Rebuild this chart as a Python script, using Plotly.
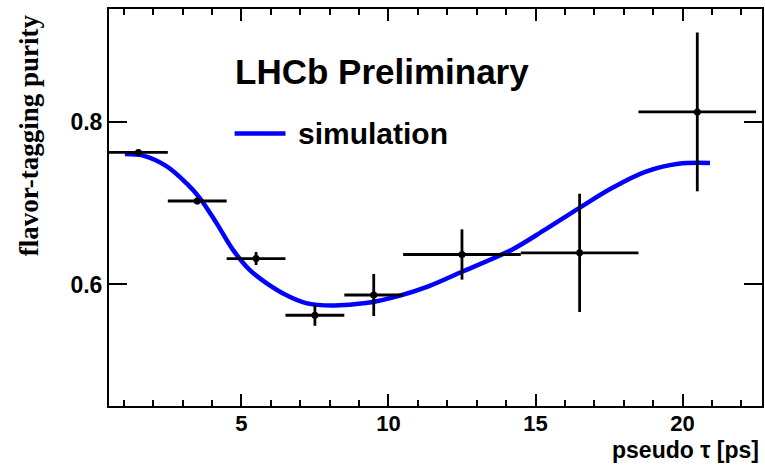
import plotly.graph_objects as go

# ---- data ----
data_x = [1.5, 3.5, 5.5, 7.5, 9.5, 12.5, 16.5, 20.5]
data_xerr = [1.0, 1.0, 1.0, 1.0, 1.0, 2.0, 2.0, 2.0]
data_y = [0.763, 0.703, 0.632, 0.562, 0.587, 0.637, 0.639, 0.813]
data_yerr = [0.002, 0.004, 0.008, 0.013, 0.026, 0.031, 0.073, 0.098]

sim_x = [1.04, 1.66, 2.45, 3.13, 3.58, 4.15, 4.71, 5.28, 5.84, 6.52, 7.2, 8.1,
         9.23, 10.36, 11.38, 12.52, 14.2, 15.34, 16.47, 17.6, 18.73, 19.86, 20.93]
sim_y = [0.761, 0.759, 0.746, 0.725, 0.707, 0.676, 0.643, 0.618, 0.602, 0.587,
         0.577, 0.574, 0.577, 0.586, 0.598, 0.616, 0.643, 0.668, 0.694, 0.719,
         0.739, 0.749, 0.750]

x_range = [0.5, 22.7]
y_range = [0.45, 0.94]
y_ticks = [0.6, 0.8]
y_ticklabels = ["0.6", "0.8"]

W, H = 765, 465
L, R, T, B = 109, 1, 9, 59
pw, ph = W - L - R, H - T - B

def px2paper_x(px):
    return (px - L) / pw

def px2paper_y(py):
    return (H - B - py) / ph

sans = "Liberation Sans, Arial, sans-serif"
serif = "Liberation Serif, Times New Roman, serif"

fig = go.Figure()

fig.add_trace(go.Scatter(
    x=sim_x, y=sim_y, mode="lines", name="simulation",
    line=dict(color="#0000ff", width=4.5, shape="spline", smoothing=1.0),
    showlegend=False, hoverinfo="skip",
))

fig.add_trace(go.Scatter(
    x=data_x, y=data_y, mode="markers", name="data",
    marker=dict(color="black", size=7),
    error_x=dict(type="data", array=data_xerr, color="black", thickness=2.8, width=0),
    error_y=dict(type="data", array=data_yerr, color="black", thickness=2.8, width=0),
    showlegend=False,
))

axis_common = dict(
    showline=True, linecolor="black", linewidth=2, mirror="ticks",
    showgrid=False, zeroline=False, ticks="inside", tickcolor="black",
    tickwidth=1.5,
)

fig.update_xaxes(
    range=x_range, tick0=0, dtick=5, ticklen=12, ticklabelstandoff=-3,
    tickfont=dict(family=sans, size=22, color="black", weight="bold"),
    minor=dict(dtick=1, tick0=0, ticks="inside", ticklen=6, tickcolor="black", tickwidth=1.5),
    **axis_common,
)
fig.update_yaxes(
    range=y_range, tickvals=y_ticks, ticktext=y_ticklabels, ticklen=18,
    tickfont=dict(family=sans, size=23, color="black", weight="bold"),
    **axis_common,
)

annotations = [
    dict(text="LHCb Preliminary", x=px2paper_x(382.5), y=px2paper_y(71), xref="paper", yref="paper",
         xanchor="center", yanchor="middle", showarrow=False,
         font=dict(family=sans, size=35, color="black", weight="bold")),
    dict(text="simulation", x=px2paper_x(297), y=px2paper_y(133), xref="paper", yref="paper",
         xanchor="left", yanchor="middle", showarrow=False,
         font=dict(family=sans, size=30, color="black", weight="bold")),
    dict(text="pseudo τ [ps]", x=px2paper_x(763), y=px2paper_y(465), xref="paper", yref="paper",
         xanchor="right", yanchor="bottom", showarrow=False,
         font=dict(family=sans, size=23, color="black", weight="bold")),
    dict(text="flavor-tagging purity", x=px2paper_x(29), y=px2paper_y(12), xref="paper", yref="paper",
         xanchor="center", yanchor="top", textangle=-90, showarrow=False,
         font=dict(family=serif, size=27, color="black", weight="bold")),
]

shapes = [
    dict(type="line", xref="paper", yref="paper",
         x0=px2paper_x(235), x1=px2paper_x(286), y0=px2paper_y(133.5), y1=px2paper_y(133.5),
         line=dict(color="#0000ff", width=4.5)),
]

fig.update_layout(
    width=W, height=H,
    margin=dict(l=L, r=R, t=T, b=B),
    paper_bgcolor="white", plot_bgcolor="white",
    annotations=annotations, shapes=shapes,
    showlegend=False,
)

fig.write_html("out.html")
